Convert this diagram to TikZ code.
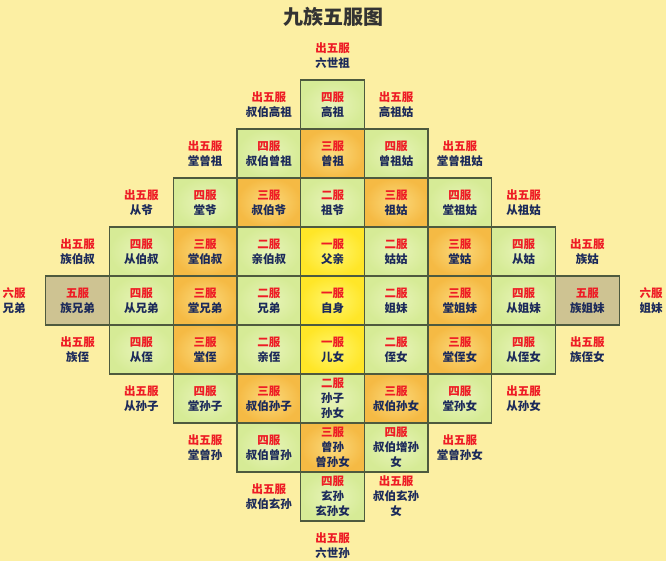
\documentclass[tikz,border=0pt]{standalone}
\usepackage{fontspec}
\newfontfamily\cjk{Noto Sans CJK SC}
\definecolor{bg}{HTML}{FCEFA3}
\definecolor{bordercol}{HTML}{4E5A3E}
\definecolor{namecol}{HTML}{1C2A5A}
\definecolor{fucol}{HTML}{EE1C25}
\definecolor{titlecol}{HTML}{333333}
\tikzset{
  cellbox/.style={draw=bordercol, line width=1.2pt, minimum width=63.7pt, minimum height=49pt,
    inner sep=0pt, align=center, text=namecol},
  gone/.style={cellbox, inner color={rgb,255:red,255;green,246;blue,110}, outer color={rgb,255:red,255;green,230;blue,40}},
  gtwo/.style={cellbox, inner color={rgb,255:red,232;green,244;blue,185}, outer color={rgb,255:red,214;green,235;blue,150}},
  gthree/.style={cellbox, inner color={rgb,255:red,251;green,218;blue,125}, outer color={rgb,255:red,245;green,186;blue,68}},
  gfour/.style={gtwo},
  gfive/.style={cellbox, fill={rgb,255:red,206;green,195;blue,146}},
  outlabel/.style={align=center, inner sep=0pt, text=namecol},
}
\newcommand\famcell[5]{\node[#3] (c#1_#2) at ({332.5+63.7*(#1)},{300.5+49*(#2)}) {{\color{fucol}#4服}\\#5};}
\newcommand\outcell[4]{\node[outlabel] (o#1_#2) at ({332.5+63.7*(#1)},{300.5+49*(#2)}) {{\color{fucol}#3}\\#4};}
\begin{document}
\begin{tikzpicture}[x=1pt,y=-1pt,font=\cjk\bfseries\fontsize{11.5}{15}\selectfont]
\fill[bg] (0,0) rectangle (666,561);
\useasboundingbox (0,0) rectangle (666,561);
\node[font=\cjk\bfseries\fontsize{20}{24}\selectfont, text=titlecol] (title) at (333,17) {九族五服图};
% row -4
\famcell{0}{-4}{gfour}{四}{高祖}
% row -3
\famcell{-1}{-3}{gfour}{四}{叔伯曾祖}
\famcell{0}{-3}{gthree}{三}{曾祖}
\famcell{1}{-3}{gfour}{四}{曾祖姑}
% row -2
\famcell{-2}{-2}{gfour}{四}{堂爷}
\famcell{-1}{-2}{gthree}{三}{叔伯爷}
\famcell{0}{-2}{gtwo}{二}{祖爷}
\famcell{1}{-2}{gthree}{三}{祖姑}
\famcell{2}{-2}{gfour}{四}{堂祖姑}
% row -1
\famcell{-3}{-1}{gfour}{四}{从伯叔}
\famcell{-2}{-1}{gthree}{三}{堂伯叔}
\famcell{-1}{-1}{gtwo}{二}{亲伯叔}
\famcell{0}{-1}{gone}{一}{父亲}
\famcell{1}{-1}{gtwo}{二}{姑姑}
\famcell{2}{-1}{gthree}{三}{堂姑}
\famcell{3}{-1}{gfour}{四}{从姑}
% row 0
\famcell{-4}{0}{gfive}{五}{族兄弟}
\famcell{-3}{0}{gfour}{四}{从兄弟}
\famcell{-2}{0}{gthree}{三}{堂兄弟}
\famcell{-1}{0}{gtwo}{二}{兄弟}
\famcell{0}{0}{gone}{一}{自身}
\famcell{1}{0}{gtwo}{二}{姐妹}
\famcell{2}{0}{gthree}{三}{堂姐妹}
\famcell{3}{0}{gfour}{四}{从姐妹}
\famcell{4}{0}{gfive}{五}{族姐妹}
% row 1
\famcell{-3}{1}{gfour}{四}{从侄}
\famcell{-2}{1}{gthree}{三}{堂侄}
\famcell{-1}{1}{gtwo}{二}{亲侄}
\famcell{0}{1}{gone}{一}{儿女}
\famcell{1}{1}{gtwo}{二}{侄女}
\famcell{2}{1}{gthree}{三}{堂侄女}
\famcell{3}{1}{gfour}{四}{从侄女}
% row 2
\famcell{-2}{2}{gfour}{四}{堂孙子}
\famcell{-1}{2}{gthree}{三}{叔伯孙子}
\famcell{0}{2}{gtwo}{二}{孙子\\孙女}
\famcell{1}{2}{gthree}{三}{叔伯孙女}
\famcell{2}{2}{gfour}{四}{堂孙女}
% row 3
\famcell{-1}{3}{gfour}{四}{叔伯曾孙}
\famcell{0}{3}{gthree}{三}{曾孙\\曾孙女}
\famcell{1}{3}{gfour}{四}{叔伯增孙\\女}
% row 4
\famcell{0}{4}{gfour}{四}{玄孙\\玄孙女}
% outside labels
\outcell{0}{-5}{出五服}{六世祖}
\outcell{-1}{-4}{出五服}{叔伯高祖}
\outcell{1}{-4}{出五服}{高祖姑}
\outcell{-2}{-3}{出五服}{堂曾祖}
\outcell{2}{-3}{出五服}{堂曾祖姑}
\outcell{-3}{-2}{出五服}{从爷}
\outcell{3}{-2}{出五服}{从祖姑}
\outcell{-4}{-1}{出五服}{族伯叔}
\outcell{4}{-1}{出五服}{族姑}
\outcell{-5}{0}{六服}{兄弟}
\outcell{5}{0}{六服}{姐妹}
\outcell{-4}{1}{出五服}{族侄}
\outcell{4}{1}{出五服}{族侄女}
\outcell{-3}{2}{出五服}{从孙子}
\outcell{3}{2}{出五服}{从孙女}
\outcell{-2}{3}{出五服}{堂曾孙}
\outcell{2}{3}{出五服}{堂曾孙女}
\outcell{-1}{4}{出五服}{叔伯玄孙}
\outcell{1}{4}{出五服}{叔伯玄孙\\女}
\outcell{0}{5}{出五服}{六世孙}
\end{tikzpicture}
\end{document}
